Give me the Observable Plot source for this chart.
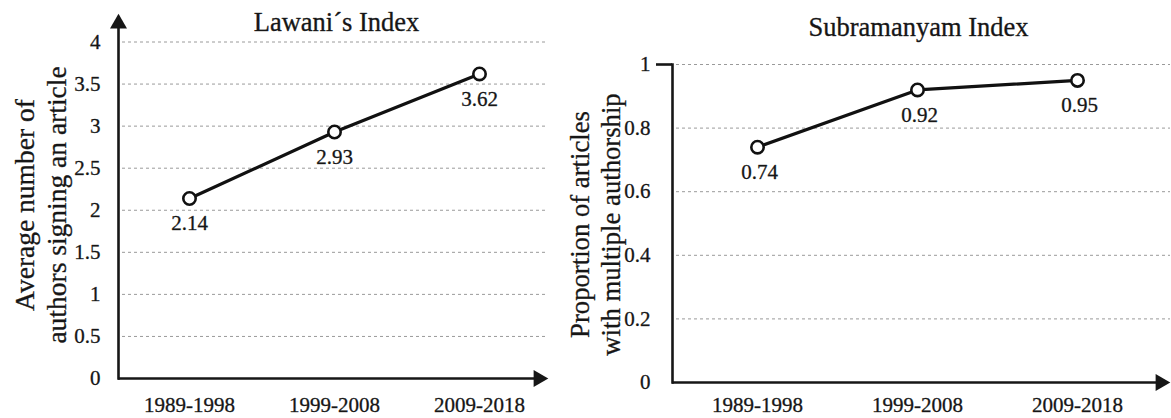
<!DOCTYPE html>
<html>
<head>
<meta charset="utf-8">
<script src="https://cdn.jsdelivr.net/npm/d3@7"></script>
<script src="https://cdn.jsdelivr.net/npm/@observablehq/plot@0.6"></script>
<style>
  html, body { margin: 0; padding: 0; background: #fff; }
  #wrap { display: flex; width: 1171px; height: 418px; }
</style>
</head>
<body>
<div id="wrap"></div>
<script>
// ---- data ----
const periods = ["1989-1998", "1999-2008", "2009-2018"];
const lawaniValues = [2.14, 2.93, 3.62];
const subramanyamValues = [0.74, 0.92, 0.95];
const lawaniTicks = [0, 0.5, 1, 1.5, 2, 2.5, 3, 3.5, 4];
const subramanyamTicks = [0, 0.2, 0.4, 0.6, 0.8, 1];
const lawaniTitle = "Lawani\u00b4s Index";
const subramanyamTitle = "Subramanyam Index";
const lawaniYLabel = "Average number of\nauthors signing an article";
const subramanyamYLabel = "Proportion of articles\nwith multiple authorship";

const FONT = "Liberation Serif, Times New Roman, serif";
const INK = "#161616";
const HEAVY = {stroke: INK, strokeWidth: 0.4, strokeOpacity: 0.8};

function panel(cfg) {
  const data = periods.map((p, i) => ({p, v: cfg.values[i]}));
  const marks = [
    Plot.gridY(cfg.ticks.filter(t => t > 0), {stroke: "#9a9a9a", strokeOpacity: 1, strokeWidth: 1, strokeDasharray: "3,3", insetLeft: 4, insetRight: cfg.gridInsetRight}),
    Plot.axisY({ticks: cfg.ticks, tickSize: 0, tickPadding: cfg.tickPad, tickFormat: d => String(d), fontSize: 21, fill: INK, textStroke: INK, textStrokeWidth: 0.4, textStrokeOpacity: 0.8}),
    Plot.axisX({tickSize: 0, tickPadding: cfg.xPad, fontSize: 21, fill: INK, textStroke: INK, textStrokeWidth: 0.4, textStrokeOpacity: 0.8}),
    Plot.frame({anchor: "left", stroke: INK, strokeWidth: 2.6}),
    Plot.ruleY([0], {stroke: INK, strokeWidth: 2.6}),
    Plot.dot([0], {frameAnchor: "bottom-right", symbol: "triangle", rotate: 90, r: 6.3, fill: INK, stroke: "none"}),
    Plot.lineY(data, {x: "p", y: "v", stroke: "#111", strokeWidth: 3.2}),
    Plot.dot(data, {x: "p", y: "v", r: 6.2, fill: "white", stroke: "#111", strokeWidth: 2.6}),
    Plot.text(data, {x: "p", y: "v", text: d => d.v.toFixed(2), dy: 25, dx: cfg.labelDx, fontSize: 21, fill: INK, ...HEAVY}),
    Plot.text([cfg.title], {frameAnchor: "top", lineAnchor: "middle", textAnchor: "middle", dx: cfg.titleDx, dy: cfg.titleDy, fontSize: 26.5, fill: INK, ...HEAVY}),
    Plot.text([cfg.yLabel], {frameAnchor: "left", textAnchor: "middle", lineAnchor: "middle", rotate: -90, dx: cfg.yLabelDx, dy: cfg.yLabelDy, fontSize: cfg.yLabelSize, lineHeight: 1.16, fill: INK, ...HEAVY})
  ];
  if (cfg.arrowTop) {
    marks.push(Plot.dot([0], {frameAnchor: "top-left", symbol: "triangle", r: 6.3, fill: INK, stroke: "none"}));
  }
  if (cfg.topTick) {
    marks.push(Plot.axisY({ticks: [cfg.topTick], tickSize: 16, tickFormat: () => "", stroke: INK, strokeWidth: 2.6}));
  }
  return Plot.plot({
    width: cfg.width,
    height: 418,
    marginLeft: cfg.ml,
    marginRight: cfg.mr,
    marginTop: cfg.mt,
    marginBottom: cfg.mb,
    style: {fontFamily: FONT, fontSize: "21px", color: INK, background: "white", overflow: "visible"},
    x: {type: "point", domain: periods, range: cfg.xRange, padding: 0, label: null},
    y: {domain: cfg.yDomain, label: null},
    marks
  });
}

const left = panel({
  width: 560, ml: 118, mr: 22, mt: 23, mb: 40,
  values: lawaniValues, ticks: lawaniTicks, yDomain: [0, 4.22],
  xRange: [189, 479], tickPad: 18, xPad: 19, gridInsetRight: -8,
  title: lawaniTitle, titleDx: 8, titleDy: -1,
  yLabel: lawaniYLabel, yLabelSize: 27.5, yLabelDx: -79, yLabelDy: 4,
  labelDx: 0, arrowTop: true
});
const right = panel({
  width: 611, ml: 112, mr: 11, mt: 64, mb: 36,
  values: subramanyamValues, ticks: subramanyamTicks, yDomain: [0, 1],
  xRange: [197, 517], tickPad: 22, xPad: 15, gridInsetRight: -10,
  title: subramanyamTitle, titleDx: 2, titleDy: -37,
  yLabel: subramanyamYLabel, yLabelSize: 26.7, yLabelDx: -78, yLabelDy: 1,
  labelDx: 2, arrowTop: false, topTick: 1
});
document.getElementById("wrap").append(left, right);
</script>
</body>
</html>
